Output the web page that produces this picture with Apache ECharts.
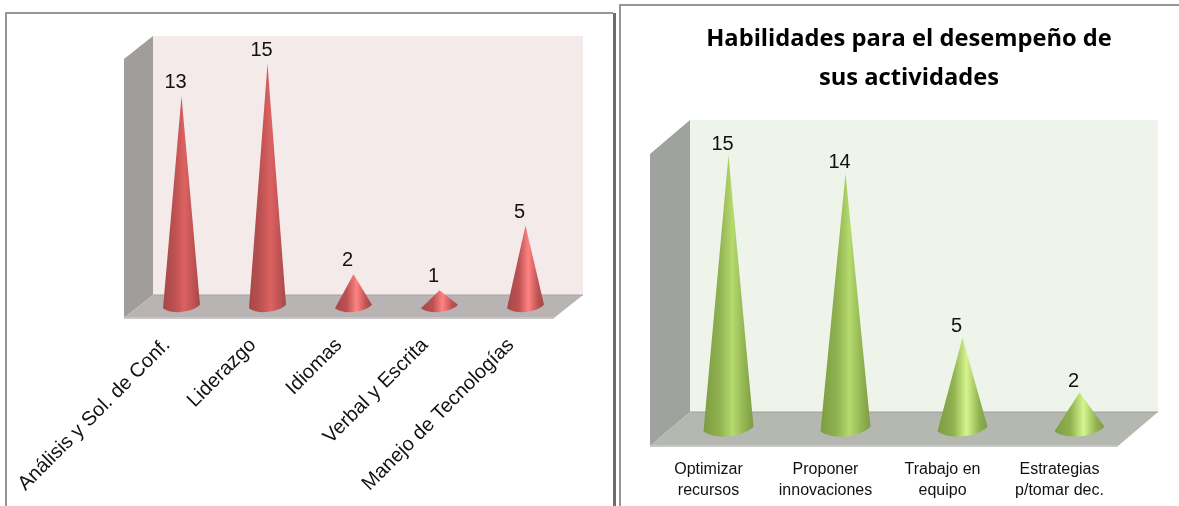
<!DOCTYPE html>
<html><head><meta charset="utf-8">
<style>html,body{margin:0;padding:0;background:#fff}#c{width:1179px;height:506px}</style>
<script src="https://cdn.jsdelivr.net/npm/echarts@6/dist/echarts.min.js"></script>
</head><body><div id="c"></div>
<script>
const leftCategories = ['Análisis y Sol. de Conf.', 'Liderazgo', 'Idiomas', 'Verbal y Escrita', 'Manejo de Tecnologías'];
const leftValues = [13, 15, 2, 1, 5];
const rightCategories = ['Optimizar\nrecursos', 'Proponer\ninnovaciones', 'Trabajo en\nequipo', 'Estrategias\np/tomar dec.'];
const rightValues = [15, 14, 5, 2];
const rightTitle = 'Habilidades para el desempeño de\nsus actividades';

const FONT = '"Liberation Sans", Arial, sans-serif';
const chart = echarts.init(document.getElementById('c'), null, {renderer: 'canvas'});

function wallSeries(axisIdx, depth, colors) {
  return {
    type: 'custom', xAxisIndex: axisIdx, yAxisIndex: axisIdx, silent: true, z: 1,
    data: [[0, 0]],
    renderItem(params) {
      const c = params.coordSys, [dx, dy] = depth;
      const L = c.x, R = c.x + c.width, T = c.y, B = c.y + c.height;
      return {type: 'group', children: [
        {type: 'polygon', shape: {points: [[L + dx, T + dy], [R + dx, T + dy], [R + dx, B + dy], [L + dx, B + dy]]}, style: {fill: colors.back}},
        {type: 'polygon', shape: {points: [[L, T], [L + dx, T + dy], [L + dx, B + dy], [L, B]]}, style: {fill: colors.side}},
        {type: 'polygon', shape: {points: [[L, B], [L + dx, B + dy], [R + dx, B + dy], [R, B]]}, style: {fill: colors.floor}},
        {type: 'line', shape: {x1: L, y1: B, x2: R, y2: B}, style: {stroke: colors.edge, lineWidth: 2}},
        {type: 'line', shape: {x1: L + dx, y1: B + dy, x2: R + dx, y2: B + dy}, style: {stroke: colors.floorBack, lineWidth: 1}}
      ]};
    }
  };
}

function coneSeries(axisIdx, values, depth, halfWidth, labelGap, colors) {
  return {
    type: 'custom', xAxisIndex: axisIdx, yAxisIndex: axisIdx, silent: true, z: 3,
    data: values.map((v, i) => [i, v]),
    renderItem(params, api) {
      const value = api.value(1);
      const tip = api.coord([api.value(0), value]);
      const base = api.coord([api.value(0), 0]);
      const cx = base[0] + depth[0] / 2, cy = base[1] + depth[1] / 2;
      const ty = tip[1] + depth[1] / 2;
      const hw = halfWidth, tilt = hw * 0.09, drop = hw * 0.36;
      const d = ['M', cx, ty, 'L', cx + hw, cy - tilt,
        'C', cx + hw * 0.55, cy + drop * 0.95, cx - hw * 0.55, cy + drop * 1.25, cx - hw, cy + tilt, 'Z'].join(' ');
      const peak = value <= 5 ? colors.peakBright : colors.peak;
      return {type: 'group', children: [
        {type: 'path', shape: {pathData: d}, style: {
          fill: new echarts.graphic.LinearGradient(0, 0, 1, 0, [
            {offset: 0, color: colors.dark}, {offset: 0.32, color: colors.mid},
            {offset: 0.58, color: peak}, {offset: 0.84, color: colors.mid}, {offset: 1, color: colors.dark}
          ])
        }},
        {type: 'text', style: {text: String(value), x: cx - 6, y: ty - labelGap, textAlign: 'center', textVerticalAlign: 'middle',
          font: '20px ' + FONT, fill: '#111'}}
      ]};
    }
  };
}

const leftDepth = [29, -23], rightDepth = [40, -34];
const hiddenY = {type: 'value', min: 0, max: 16, show: false, splitLine: {show: false}};
const catAxis = (idx, data, label) => ({
  type: 'category', gridIndex: idx, data, axisLine: {show: false}, axisTick: {show: false}, axisLabel: label
});

chart.setOption({
  animation: false,
  backgroundColor: '#fff',
  title: {text: rightTitle, left: 904, top: 15, textAlign: 'center',
    textStyle: {fontFamily: '"Open Sans", sans-serif', fontWeight: 'bold', fontSize: 23.7, lineHeight: 39, color: '#000'}},
  grid: [
    {left: 124, top: 59, width: 430, height: 259},
    {left: 650, top: 154, width: 468, height: 292}
  ],
  xAxis: [
    catAxis(0, leftCategories, {interval: 0, rotate: 45, margin: 24, fontFamily: FONT, fontSize: 20, color: '#111'}),
    catAxis(1, rightCategories, {interval: 0, margin: 13, fontFamily: FONT, fontSize: 16, lineHeight: 21, color: '#111'})
  ],
  yAxis: [Object.assign({gridIndex: 0}, hiddenY), Object.assign({gridIndex: 1}, hiddenY)],
  series: [
    wallSeries(0, leftDepth, {back: '#f5eaea', side: '#a09d9c', floor: '#bab3b3', edge: '#c6c6c6', floorBack: '#a9a4a4'}),
    coneSeries(0, leftValues, leftDepth, 18.5, 13.5, {dark: '#a54747', mid: '#bd5252', peak: '#dc6262', peakBright: '#ff8282'}),
    wallSeries(1, rightDepth, {back: '#eef4ea', side: '#a0a29e', floor: '#b5b7b1', edge: '#c6c6c6', floorBack: '#9d9f9a'}),
    coneSeries(1, rightValues, rightDepth, 25, 11, {dark: '#7c9c43', mid: '#90b14f', peak: '#b5da6e', peakBright: '#d4f58e'})
  ],
  graphic: [
    {type: 'polyline', silent: true, shape: {points: [[6, 506], [6, 13], [613, 13]]}, style: {stroke: '#969696', fill: null, lineWidth: 2}},
    {type: 'rect', silent: true, shape: {x: 613, y: 13, width: 3, height: 493}, style: {fill: '#6e6e6e'}},
    {type: 'polyline', silent: true, shape: {points: [[620, 506], [620, 5], [1179, 5]]}, style: {stroke: '#969696', fill: null, lineWidth: 2}}
  ]
});
</script></body></html>
